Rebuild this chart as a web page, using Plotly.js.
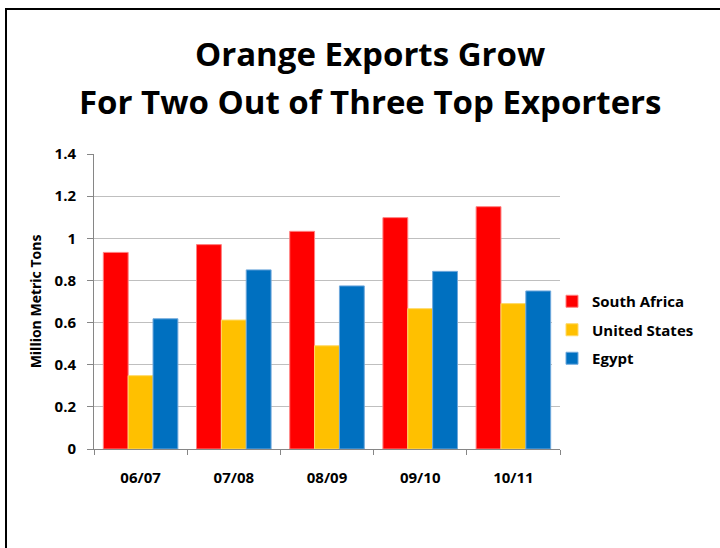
<!DOCTYPE html>
<html><head><meta charset="utf-8">
<script src="https://cdn.plot.ly/plotly-3.0.1.min.js"></script>
<style>
html,body{margin:0;padding:0;background:#fff;}
#wrap{position:relative;width:720px;height:548px;overflow:hidden;}
#chart{width:720px;height:548px;}
#frame{position:absolute;left:5px;top:8px;width:800px;height:600px;border:2px solid #000;pointer-events:none;box-sizing:border-box;}
</style></head>
<body><div id="wrap"><div id="chart"></div><div id="frame"></div></div>
<script>
var categories = ['06/07','07/08','08/09','09/10','10/11'];
var southAfrica = [0.933, 0.970, 1.033, 1.098, 1.150];
var unitedStates = [0.348, 0.612, 0.490, 0.666, 0.690];
var egypt = [0.618, 0.850, 0.774, 0.843, 0.750];
var seriesNames = ['South Africa','United States','Egypt'];
var titleLines = ['Orange Exports Grow','For Two Out of Three Top Exporters'];
var colors = ['#FF0000','#FFC000','#0070C0'];
var edge = ['#FF8080','#FFD966','#6FA8DC'];
var vals = [southAfrica, unitedStates, egypt];
var font = 'Open Sans, Liberation Sans, Arial, sans-serif';
var traces = vals.map(function(v,i){
  return {type:'bar', x:categories, y:v, name:seriesNames[i], legendgroup:'g'+i,
    marker:{color:colors[i], line:{color:edge[i], width:1}}};
});
var layout = {
  width:720, height:548,
  margin:{l:94, r:160, t:154, b:99},
  paper_bgcolor:'#fff', plot_bgcolor:'#fff',
  barmode:'group', bargap:0.2, bargroupgap:0,
  title:{text:titleLines[0],
    font:{family:font, size:33, color:'#000', weight:'bold'},
    x:0.514, xref:'container', xanchor:'center', y:1-54/548, yref:'container', yanchor:'middle'},
  annotations:[{text:titleLines[1], showarrow:false, xref:'paper', yref:'paper',
    x:(370-94)/466, y:(449-102)/295, xanchor:'center', yanchor:'middle',
    font:{family:font, size:33, color:'#000', weight:'bold'}}],
  font:{family:font, color:'#000'},
  xaxis:{type:'category', showline:true, linecolor:'#868686', linewidth:1,
    ticks:'outside', tickson:'boundaries', ticklen:5, tickcolor:'#868686',
    ticklabelstandoff:15,
    tickfont:{size:15, weight:'bold'}, showgrid:false},
  yaxis:{range:[0,1.4], dtick:0.2, showline:true, linecolor:'#868686', linewidth:1,
    ticks:'outside', ticklen:6, tickcolor:'#868686', ticklabelstandoff:8,
    gridcolor:'#BFBFBF', gridwidth:1, zeroline:false,
    tickfont:{size:15, weight:'bold'},
    title:{text:'Million Metric Tons', font:{size:14, weight:'bold'}, standoff:9}},
  legend:{x:(552-94)/466, xanchor:'left', y:(449-330)/295, yanchor:'middle',
    font:{size:15, weight:'bold'}, tracegroupgap:6, itemwidth:30},
  showlegend:true
};
Plotly.newPlot('chart', traces, layout, {displayModeBar:false, staticPlot:true});
</script></body></html>
